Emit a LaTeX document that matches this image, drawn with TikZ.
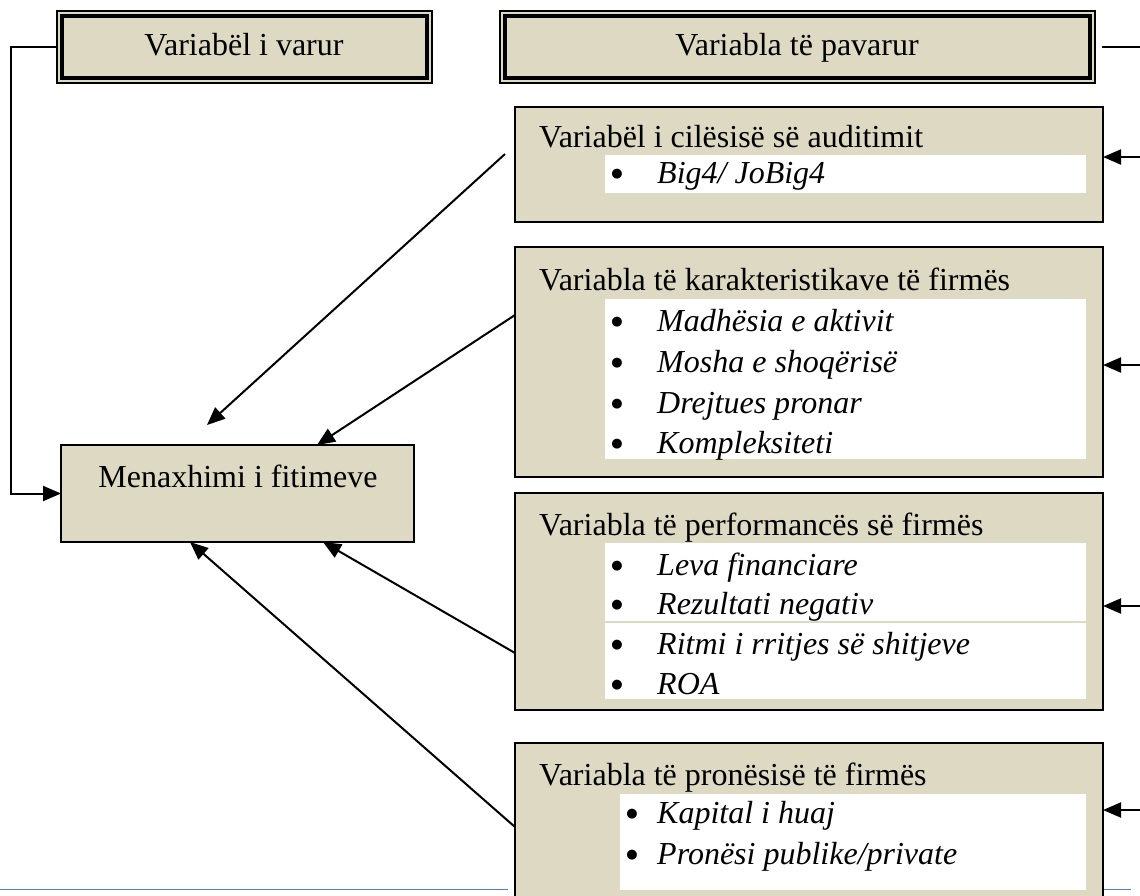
\documentclass[tikz,border=0pt]{standalone}
\usepackage{fontspec}
\setmainfont{Liberation Serif}
\newfontfamily\symfont{DejaVu Sans}
\usetikzlibrary{arrows.meta}
\definecolor{tanfill}{RGB}{221,217,195}
\definecolor{footblue}{RGB}{79,129,189}
\begin{document}
\begin{tikzpicture}[x=1pt,y=-1pt,
  panel/.style={draw=black, line width=2pt, fill=tanfill, anchor=north west, inner sep=0pt, outer sep=0pt},
  hdr/.style={draw=black, line width=1.2pt, fill=tanfill, anchor=north west, inner sep=0pt, outer sep=0pt},
  whitebox/.style={fill=white, draw=none, anchor=north west, inner sep=0pt, outer sep=0pt},
  title/.style={anchor=base west, inner sep=0pt, font=\fontsize{32}{38}\selectfont},
  item/.style={anchor=base west, inner sep=0pt, font=\fontsize{32}{38}\selectfont\itshape},
  bul/.style={anchor=center, inner sep=0pt, font=\symfont\fontsize{13}{15}\selectfont},
  conn/.style={line width=2pt},
  arr/.style={line width=2pt, -{Triangle[length=18pt,width=15pt]}},
]
\useasboundingbox (0,0) rectangle (1140,895);
% footer line
\draw[footblue, line width=1pt] (0,889) -- (508,889);
\draw[footblue, line width=1pt] (1104,889) -- (1131,889);

% header boxes (double border)
\node[hdr, minimum width=375pt, minimum height=72pt] (box1) at (57,11) {};
\draw[line width=3.2pt] ([shift={(5pt,-5pt)}]box1.north west) rectangle ([shift={(-5pt,5pt)}]box1.south east);
\node[title, anchor=base] (t1) at (244,55) {Variabël i varur};

\node[hdr, minimum width=595pt, minimum height=72pt] (box2) at (500,11) {};
\draw[line width=3.2pt] ([shift={(5pt,-5pt)}]box2.north west) rectangle ([shift={(-5pt,5pt)}]box2.south east);
\node[title, anchor=base] (t2) at (797,55) {Variabla të pavarur};

% dependent variable box
\node[panel, minimum width=353pt, minimum height=97pt] (menax) at (61,445) {};
\node[title, anchor=base] (tm) at (238,487) {Menaxhimi i fitimeve};

% audit box
\node[panel, minimum width=588pt, minimum height=115pt] (audit) at (515,107) {};
\node[whitebox, minimum width=481pt, minimum height=38pt] (aw) at (605,155) {};
\node[title] (at) at (539,147) {Variabël i cilësisë së auditimit};
\node[bul] (ab1) at (617,174) {●};
\node[item] (ai1) at (657,183) {Big4/ JoBig4};

% firm characteristics box
\node[panel, minimum width=588pt, minimum height=230pt] (firm) at (515,247) {};
\node[whitebox, minimum width=481pt, minimum height=160pt] (fw) at (605,299) {};
\node[title] (ft) at (539,290) {Variabla të karakteristikave të firmës};
\node[bul] (fb1) at (617,322) {●};
\node[item] (fi1) at (657,331) {Madhësia e aktivit};
\node[bul] (fb2) at (617,363) {●};
\node[item] (fi2) at (657,372) {Mosha e shoqërisë};
\node[bul] (fb3) at (617,404) {●};
\node[item] (fi3) at (657,413) {Drejtues pronar};
\node[bul] (fb4) at (617,444) {●};
\node[item] (fi4) at (657,453) {Kompleksiteti};

% performance box
\node[panel, minimum width=588pt, minimum height=217pt] (perf) at (515,493) {};
\node[whitebox, minimum width=481pt, minimum height=156pt] (pw) at (605,543) {};
\draw[tanfill, line width=1.2pt] (pw.west |- 0,622) -- (pw.east |- 0,622);
\node[title] (pt) at (539,535) {Variabla të performancës së firmës};
\node[bul] (pb1) at (617,566) {●};
\node[item] (pi1) at (657,575) {Leva financiare};
\node[bul] (pb2) at (617,605) {●};
\node[item] (pi2) at (657,614) {Rezultati negativ};
\node[bul] (pb3) at (617,645) {●};
\node[item] (pi3) at (657,654) {Ritmi i rritjes së shitjeve};
\node[bul] (pb4) at (617,685) {●};
\node[item] (pi4) at (657,694) {ROA};

% ownership box
\node[panel, minimum width=588pt, minimum height=170pt] (own) at (515,743) {};
\node[whitebox, minimum width=466pt, minimum height=96pt] (ow) at (620,794) {};
\node[title] (ot) at (539,785) {Variabla të pronësisë të firmës};
\node[bul] (ob1) at (632,814) {●};
\node[item] (oi1) at (657,823) {Kapital i huaj};
\node[bul] (ob2) at (632,855) {●};
\node[item] (oi2) at (657,864) {Pronësi publike/private};

% left connector
\coordinate (lc) at (11,0);
\draw[arr] (box1.west) -- (box1.west -| lc) |- (menax.west);

% right connectors
\coordinate (rtop) at (1140,47);
\draw[conn] ([xshift=7pt]box2.east) -- (rtop);
\coordinate (r1) at (1140,157);
\coordinate (r2) at (1140,365);
\coordinate (r3) at (1140,606);
\coordinate (r4) at (1140,810);
\draw[arr] (r1) -- (r1 -| audit.east);
\draw[arr] (r2) -- (r2 -| firm.east);
\draw[arr] (r3) -- (r3 -| perf.east);
\draw[arr] (r4) -- (r4 -| own.east);

% diagonal connectors
\coordinate (s1) at (505,154);
\coordinate (e1) at (207,425);
\coordinate (s2) at (515,315);
\coordinate (e2) at (317,0);
\coordinate (s3) at (515,653);
\coordinate (e3) at (323,0);
\coordinate (s4) at (515,827);
\coordinate (e4) at (190,0);
\draw[arr] (s1) -- (e1);
\draw[arr] (s2) -- (e2 |- menax.north);
\draw[arr] (s3) -- (e3 |- menax.south);
\draw[arr] (s4) -- (e4 |- menax.south);
\end{tikzpicture}
\end{document}
